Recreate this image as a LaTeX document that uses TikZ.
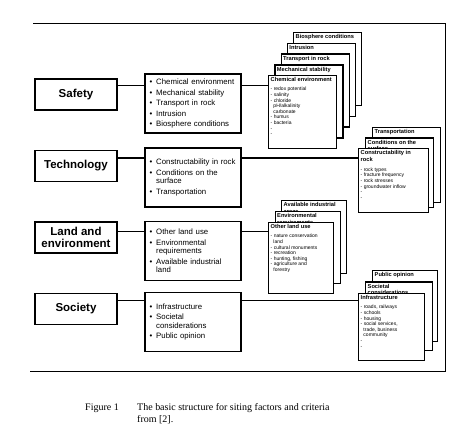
\documentclass[tikz,border=0pt]{standalone}
\usepackage{fontspec}
\setmainfont{Liberation Sans}
\newfontfamily\capfont{Liberation Serif}
\newcommand{\itm}{\textbullet\hspace{4pt}}
\newcommand{\ind}{\hspace*{6.7pt}}
\newcommand{\ttl}[1]{\textbf{\fontsize{5.7}{6}\selectfont #1}}
\begin{document}
\begin{tikzpicture}[x=1pt,y=-1pt,
    category/.style ={draw, line width=1.2pt, minimum width=82pt, minimum height=31pt, inner sep=1pt, align=center, font=\bfseries\fontsize{11.5}{11.5}\selectfont},
    factors/.style ={draw, line width=1.2pt, minimum width=96pt, minimum height=59pt, inner sep=4pt, text width=87pt, align=left, font=\fontsize{7.8}{8.5}\selectfont},
    sheet/.style ={draw, line width=1.3pt, fill=white, anchor=north west, inner sep=0pt},
    sheettitle/.style ={anchor=north west, inner xsep=2.5pt, inner ysep=2.5pt, align=left, font=\bfseries\fontsize{5.7}{6.2}\selectfont},
    sheetlist/.style ={anchor=north west, inner xsep=2.5pt, inner ysep=2.5pt, align=left, font=\fontsize{5}{5.6}\selectfont},
    link/.style ={line width=1.2pt},
    caption/.style ={inner sep=0pt, align=left, font=\capfont\fontsize{10}{12}\selectfont}]
   \useasboundingbox (0,0) rectangle (475,446);
   % frame
   \draw[line width=0.8pt] (33,23) -- (445,23) -- (445,371) -- (30,371);
   % categories
   \node[category] (S) at (76,94.5)  {Safety};
   \node[category] (T) at (76,166)   {Technology};
   \node[category] (L) at (76,237.5) {Land and\\environment};
   \node[category] (P) at (76,309)   {Society};
   % factors
   \node[factors] (SL) at (193,103.5) {\itm Chemical environment\\[2pt] \itm Mechanical stability\\[2pt] \itm Transport in rock\\[2pt] \itm Intrusion\\[2pt] \itm Biosphere conditions};
   \node[factors] (TL) at (193,177.5) {\itm Constructability in rock\\[2pt] \itm Conditions on the\\ \ind surface\\[2pt] \itm Transportation};
   \node[factors] (LL) at (193,251)   {\itm Other land use\\[2pt] \itm Environmental\\ \ind requirements\\[2pt] \itm Available industrial\\ \ind land};
   \node[factors] (PL) at (193,322)   {\itm Infrastructure\\[2pt] \itm Societal\\ \ind considerations\\[2pt] \itm Public opinion};
   % sheets behind
   \foreach \x/\y/\w/\h/\t [count=\i] in {
       293/32/68/73/Biosphere conditions,
       286.75/42.75/68/73/Intrusion,
       280.5/53.5/68/73/Transport in rock,
       274.25/64.25/68/73/Mechanical stability,
       372/127/68/75/Transportation,
       365/137.5/68/69.5/{Conditions on the\\surface},
       281/200/65/73/{Available industrial\\areas},
       274.5/211/65/72/{Environmental\\requirements},
       372/270/65/71/Public opinion,
       365/281.5/67/68.5/{Societal\\considerations}}
   {
     \node[sheet, minimum width=\w pt, minimum height=\h pt] (b\i) at (\x,\y) {};
     \node[sheettitle] (b\i t) at (b\i.north west) {\t};
   }
   % front sheets
   \node[sheet, minimum width=68pt, minimum height=73pt] (SF) at (268,75) {};
   \node[sheetlist] (SFt) at (SF.north west) {\ttl{Chemical environment}\\[3.5pt]
      - redox potential\\ - salinity\\ - chloride\\ \ \ pH/alkalinity\\ \ \ carbonate\\ - humus\\ - bacteria\\ -\\ -};
   \node[sheet, minimum width=70pt, minimum height=64pt] (TF) at (358,148) {};
   \node[sheetlist] (TFt) at (TF.north west) {\ttl{Constructability in}\\[0.8pt] \ttl{rock}\\[4.5pt]
      - rock types\\ - fracture frequency\\ - rock stresses\\ - groundwater inflow\\ -\\ -};
   \node[sheet, minimum width=65pt, minimum height=71pt] (LF) at (268,222) {};
   \node[sheetlist] (LFt) at (LF.north west) {\ttl{Other land use}\\[3.5pt]
      - nature conservation\\ \ \ land\\ - cultural monuments\\ - recreation\\ - hunting, fishing\\ - agriculture and\\ \ \ forestry};
   \node[sheet, minimum width=66pt, minimum height=67pt] (PF) at (358,293) {};
   \node[sheetlist] (PFt) at (PF.north west) {\ttl{Infrastructure}\\[3.5pt]
      - roads, railways\\ - schools\\ - housing\\ - social services,\\ \ \ trade, business\\ \ \ community\\ -\\ -};
   % connectors
   \draw[link] (S.12) -- (S.12 -| SL.west);
   \draw[link] (S.12 -| SL.east) -- (S.12 -| SF.west);
   \draw[link] (T.11) -- (T.11 -| TL.west);
   \draw[link] (T.11 -| TL.east) -- (T.11 -| TF.west);
   \draw[link] (L.8) -- (L.8 -| LL.west);
   \draw[link] (L.8 -| LL.east) -- (L.8 -| LF.west);
   \draw[link] (P.12) -- (P.12 -| PL.west);
   \draw[link] (P.12 -| PL.east) -- (P.12 -| PF.west);
   % caption
   \node[caption, anchor=base west] (fig) at (85,411) {Figure 1};
   \node[caption, anchor=north west] (capt) at (137,403) {The basic structure for siting factors and criteria\\from [2].};
\end{tikzpicture}
\end{document}
